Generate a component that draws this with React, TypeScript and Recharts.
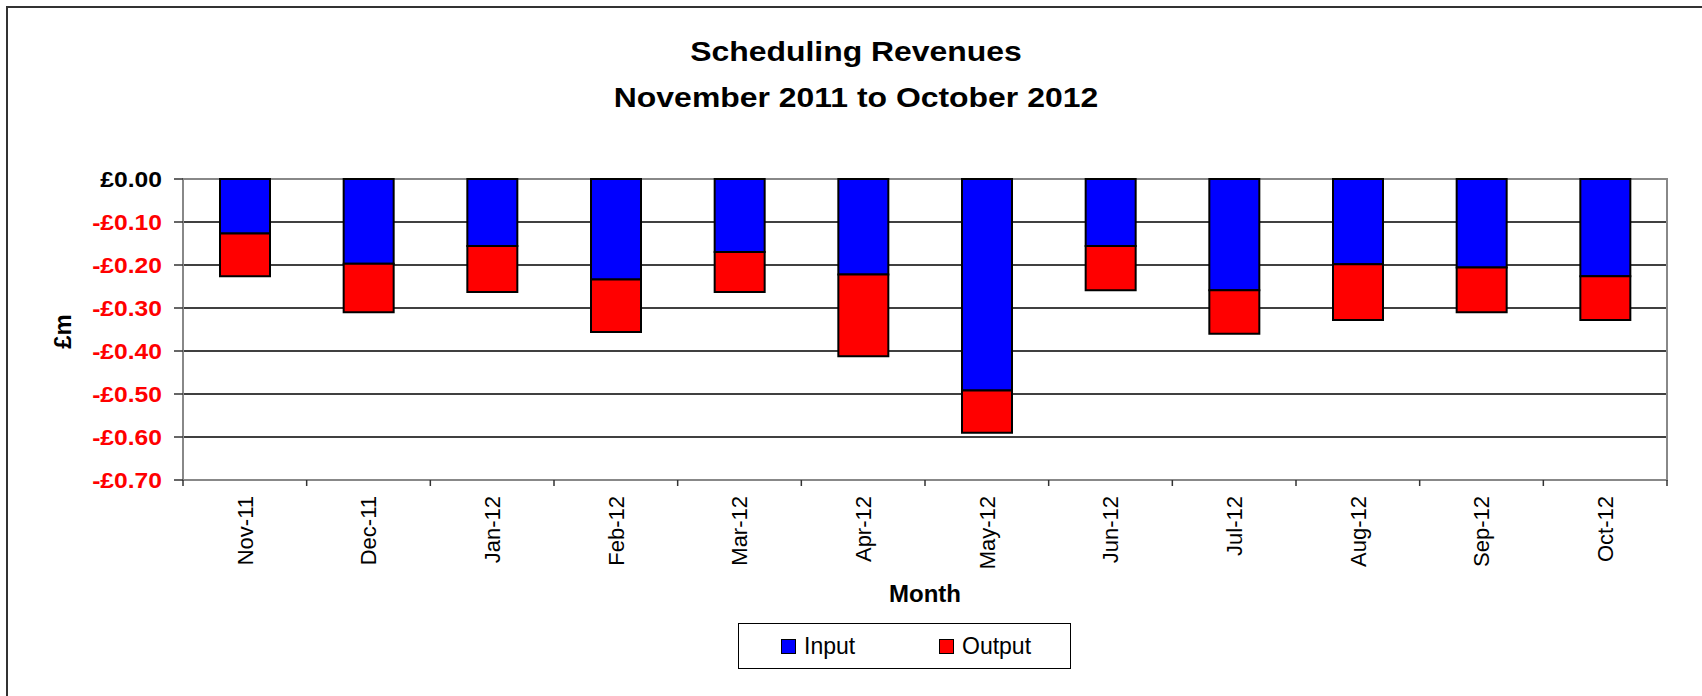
import { BarChart, Bar, XAxis, YAxis, CartesianGrid, Legend, ReferenceArea } from 'recharts';

const months = ['Nov-11', 'Dec-11', 'Jan-12', 'Feb-12', 'Mar-12', 'Apr-12', 'May-12', 'Jun-12', 'Jul-12', 'Aug-12', 'Sep-12', 'Oct-12'];
const inputValues = [-0.127, -0.197, -0.156, -0.234, -0.170, -0.222, -0.492, -0.156, -0.259, -0.198, -0.206, -0.226];
const outputValues = [-0.099, -0.113, -0.107, -0.122, -0.093, -0.190, -0.098, -0.103, -0.101, -0.130, -0.104, -0.102];
const yTicks = [0, -0.1, -0.2, -0.3, -0.4, -0.5, -0.6, -0.7];

const data = months.map((m, i) => ({ month: m, input: inputValues[i], output: outputValues[i] }));

const FONT = '"Liberation Sans", Arial, Helvetica, sans-serif';
const W = 1702;
const H = 696;
const PLOT_LEFT = 183;
const PLOT_RIGHT = 1667;
const PLOT_TOP = 179;
const PLOT_BOTTOM = 480;
const BAND = (PLOT_RIGHT - PLOT_LEFT) / months.length;

const fmt = (v: number) => (v === 0 ? '£0.00' : `-£${Math.abs(v).toFixed(2)}`);

const YTick = ({ x, y, payload }: any) => {
  const v = payload.value;
  return (
    <g transform={`translate(${x},${y}) scale(1.12,1)`}>
      <text x={0} y={0} dy="0.36em" textAnchor="end" fill={v === 0 ? '#000' : '#FF0000'}
        fontSize={22} fontWeight="bold" fontFamily={FONT}>
        {fmt(v)}
      </text>
    </g>
  );
};

const XTick = ({ x, payload, index }: any) => (
  <g>
    <line x1={x - BAND / 2} x2={x - BAND / 2} y1={PLOT_BOTTOM} y2={PLOT_BOTTOM + 6} stroke="#333" strokeWidth={1.5} />
    {index === months.length - 1 && (
      <line x1={x + BAND / 2} x2={x + BAND / 2} y1={PLOT_BOTTOM} y2={PLOT_BOTTOM + 6} stroke="#333" strokeWidth={1.5} />
    )}
    <g transform={`translate(${x},${PLOT_BOTTOM + 16}) rotate(-90)`}>
      <text x={0} y={0} dy="0.36em" textAnchor="end" fill="#000" fontSize={22} fontFamily={FONT}>
        {payload.value}
      </text>
    </g>
  </g>
);

const LegendBox = ({ payload }: any) => (
  <div style={{
    boxSizing: 'border-box', width: 333, height: 46, border: '1.5px solid #000',
    position: 'relative', background: '#fff', fontFamily: FONT, fontSize: 23, color: '#000',
  }}>
    {(payload || []).map((p: any, i: number) => (
      <div key={p.value} style={{ position: 'absolute', left: i === 0 ? 42 : 200, top: 10, display: 'flex', alignItems: 'center', lineHeight: '24px' }}>
        <span style={{ display: 'inline-block', width: 15, height: 15, background: p.color, border: '1.5px solid #000', boxSizing: 'border-box', marginRight: 8 }} />
        <span>{p.value}</span>
      </div>
    ))}
  </div>
);

export default function App() {
  return (
    <div style={{ position: 'fixed', left: 0, top: 0, width: W, height: H, overflow: 'hidden', background: '#fff' }}>
      <div style={{ position: 'absolute', left: 6, top: 6, width: W + 20, height: H + 20, borderLeft: '2px solid #333', borderTop: '2px solid #333' }} />
      <div style={{
        position: 'absolute', left: 556, top: 29, width: 600, textAlign: 'center',
        fontFamily: FONT, fontWeight: 'bold', fontSize: 28, lineHeight: '46px', color: '#000',
        transform: 'scaleX(1.14)',
      }}>
        Scheduling Revenues<br />November 2011 to October 2012
      </div>
      <div style={{ position: 'absolute', left: 0, top: 0 }}>
        <BarChart width={W} height={H} data={data} margin={{ top: PLOT_TOP, right: W - PLOT_RIGHT, bottom: 0, left: 0 }}>
          <CartesianGrid vertical={false} stroke="#000" strokeWidth={1.5} />
          <ReferenceArea y1={-0.7} y2={0} fill="none" stroke="#888" strokeWidth={2} />
          <XAxis dataKey="month" height={H - PLOT_BOTTOM} tickSize={0} tickMargin={16} tick={<XTick />}
            axisLine={{ stroke: '#888', strokeWidth: 2 }} interval={0}
            label={{
              content: () => (
                <text x={(PLOT_LEFT + PLOT_RIGHT) / 2} y={602} textAnchor="middle" fontSize={24} fontWeight="bold" fontFamily={FONT} fill="#000">Month</text>
              ),
            }} />
          <YAxis width={PLOT_LEFT} domain={[-0.7, 0]} ticks={yTicks} interval={0} tickSize={9} tickMargin={12}
            tick={<YTick />} axisLine={{ stroke: '#888', strokeWidth: 2 }} tickLine={{ stroke: '#333', strokeWidth: 1.5 }}
            label={{
              content: () => (
                <g transform={`translate(62,${(PLOT_TOP + PLOT_BOTTOM) / 2 + 2}) rotate(-90)`}>
                  <text x={0} y={0} dy="0.36em" textAnchor="middle" fontSize={24} fontWeight="bold" fontFamily={FONT} fill="#000">£m</text>
                </g>
              ),
            }} />
          <Legend layout="vertical" align="center" verticalAlign="middle" content={<LegendBox />}
            wrapperStyle={{ left: 738, top: 623, width: 333, height: 46 }} />
          <Bar dataKey="input" name="Input" stackId="a" fill="#0000FF" stroke="#000" strokeWidth={2} barSize={50} isAnimationActive={false} />
          <Bar dataKey="output" name="Output" stackId="a" fill="#FF0000" stroke="#000" strokeWidth={2} barSize={50} isAnimationActive={false} />
        </BarChart>
      </div>
    </div>
  );
}
